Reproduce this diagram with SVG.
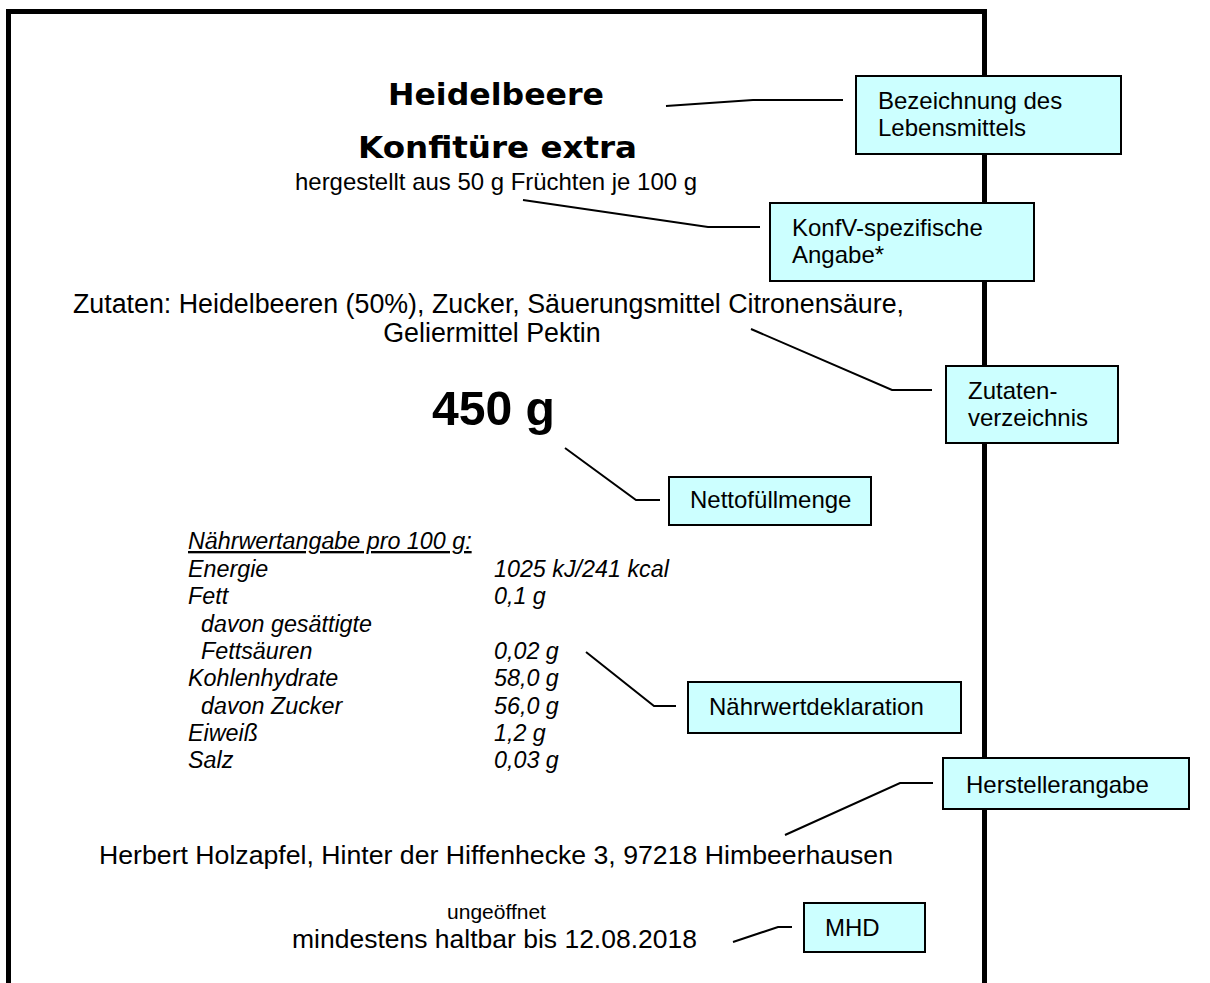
<svg xmlns="http://www.w3.org/2000/svg" width="1210" height="983" viewBox="0 0 1210 983">
<style>
.frame{stroke:#000;fill:none}
.box{fill:#CCFFFF;stroke:#000;stroke-width:2}
.bt{font-family:"Liberation Sans",Arial,sans-serif;font-size:24px;fill:#000}
.con{fill:none;stroke:#000;stroke-width:2}
.t{font-family:"Liberation Sans",Arial,sans-serif;fill:#000}
.title{font-family:"Comic Sans MS","DejaVu Sans",sans-serif;font-weight:bold;font-size:31px;fill:#000}
.nut{font-family:"Liberation Sans",Arial,sans-serif;font-style:italic;font-size:23.3px;fill:#000}
</style>
<rect width="1210" height="983" fill="#fff"/>
<g id="frame">
<line class="frame" x1="6" y1="11.5" x2="987" y2="11.5" stroke-width="5"/>
<line class="frame" x1="8.5" y1="9" x2="8.5" y2="983" stroke-width="5"/>
<line class="frame" x1="984.5" y1="9" x2="984.5" y2="983" stroke-width="5"/>
</g>
<g id="label-text">
<text class="title" x="496" y="105" text-anchor="middle" textLength="216" lengthAdjust="spacingAndGlyphs">Heidelbeere</text>
<text class="title" x="497.5" y="158" text-anchor="middle" textLength="279" lengthAdjust="spacingAndGlyphs">Konfitüre extra</text>
<text class="t" x="496" y="190" font-size="24" text-anchor="middle" textLength="402" lengthAdjust="spacingAndGlyphs">hergestellt aus 50 g Früchten je 100 g</text>
<text class="t" x="488.5" y="313" font-size="26.8" text-anchor="middle" textLength="831" lengthAdjust="spacingAndGlyphs">Zutaten: Heidelbeeren (50%), Zucker, Säuerungsmittel Citronensäure,</text>
<text class="t" x="492" y="342" font-size="26.8" text-anchor="middle">Geliermittel Pektin</text>
<text class="t" x="493.5" y="425" font-size="48" font-weight="bold" text-anchor="middle" textLength="123" lengthAdjust="spacingAndGlyphs">450 g</text>
<text class="nut" x="188" y="549" text-decoration="underline">Nährwertangabe pro 100 g:</text>
<text class="nut" x="188" y="577">Energie</text>
<text class="nut" x="494" y="577">1025 kJ/241 kcal</text>
<text class="nut" x="188" y="604">Fett</text>
<text class="nut" x="494" y="604">0,1 g</text>
<text class="nut" x="201" y="632">davon gesättigte</text>
<text class="nut" x="201" y="659">Fettsäuren</text>
<text class="nut" x="494" y="659">0,02 g</text>
<text class="nut" x="188" y="686">Kohlenhydrate</text>
<text class="nut" x="494" y="686">58,0 g</text>
<text class="nut" x="201" y="714">davon Zucker</text>
<text class="nut" x="494" y="714">56,0 g</text>
<text class="nut" x="188" y="741">Eiweiß</text>
<text class="nut" x="494" y="741">1,2 g</text>
<text class="nut" x="188" y="768">Salz</text>
<text class="nut" x="494" y="768">0,03 g</text>
<text class="t" x="496" y="864" font-size="26.6" text-anchor="middle" textLength="794" lengthAdjust="spacingAndGlyphs">Herbert Holzapfel, Hinter der Hiffenhecke 3, 97218 Himbeerhausen</text>
<text class="t" x="496.5" y="919" font-size="21" text-anchor="middle">ungeöffnet</text>
<text class="t" x="494.5" y="948" font-size="26.6" text-anchor="middle" textLength="405" lengthAdjust="spacingAndGlyphs">mindestens haltbar bis 12.08.2018</text>
</g>
<g id="connectors">
<polyline class="con" points="666,106 753,100 843,100"/>
<polyline class="con" points="523,200 708,227 760,227"/>
<polyline class="con" points="751,329 892,390 932,390"/>
<polyline class="con" points="565,448 636,500 660,500"/>
<polyline class="con" points="586,652 654,706 676,706"/>
<polyline class="con" points="785,835 900,783 933,783"/>
<polyline class="con" points="733,942 778,927 792,927"/>
</g>
<g id="n-bezeichnung"><rect class="box" x="856" y="76" width="265" height="78"/><text class="bt" x="878" y="109">Bezeichnung des</text><text class="bt" x="878" y="136">Lebensmittels</text></g>
<g id="n-konfv"><rect class="box" x="770" y="203" width="264" height="78"/><text class="bt" x="792" y="236">KonfV-spezifische</text><text class="bt" x="792" y="263">Angabe*</text></g>
<g id="n-zutaten"><rect class="box" x="946" y="366" width="172" height="77"/><text class="bt" x="968" y="399">Zutaten-</text><text class="bt" x="968" y="426">verzeichnis</text></g>
<g id="n-netto"><rect class="box" x="669" y="477" width="202" height="48"/><text class="bt" x="690" y="508">Nettofüllmenge</text></g>
<g id="n-naehrwert"><rect class="box" x="688" y="682" width="273" height="51"/><text class="bt" x="709" y="715">Nährwertdeklaration</text></g>
<g id="n-hersteller"><rect class="box" x="943" y="758" width="246" height="51"/><text class="bt" x="966" y="793" font-size="26">Herstellerangabe</text></g>
<g id="n-mhd"><rect class="box" x="804" y="903" width="121" height="49"/><text class="bt" x="825" y="936" font-size="23">MHD</text></g>
</svg>
